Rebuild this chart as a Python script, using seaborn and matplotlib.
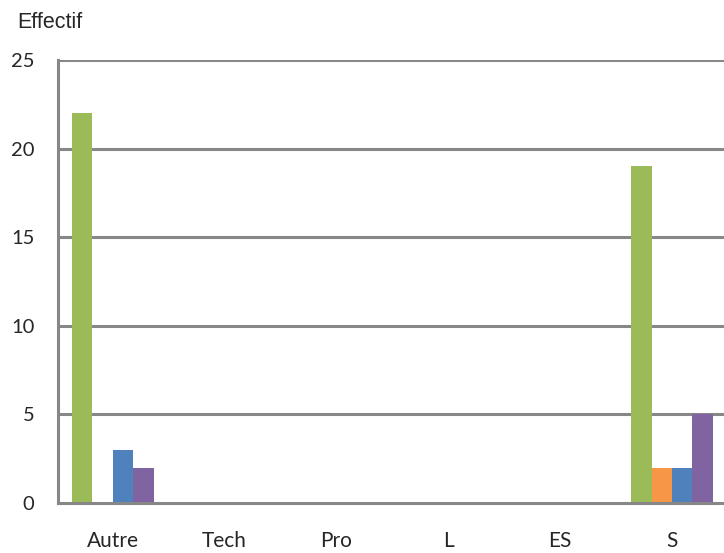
import matplotlib
matplotlib.use("Agg")
import matplotlib.pyplot as plt
import seaborn as sns
import pandas as pd

categories = ["Autre", "Tech", "Pro", "L", "ES", "S"]
series_names = ["Série 1", "Série 2", "Série 3", "Série 4"]
serie1 = [22, 0, 0, 0, 0, 19]
serie2 = [0, 0, 0, 0, 0, 2]
serie3 = [3, 0, 0, 0, 0, 2]
serie4 = [2, 0, 0, 0, 0, 5]
y_ticks = [0, 5, 10, 15, 20, 25]

colors = ["#9BBB59", "#F79646", "#4F81BD", "#8064A2"]

rows = []
for name, vals in zip(series_names, [serie1, serie2, serie3, serie4]):
    for c, v in zip(categories, vals):
        rows.append({"cat": c, "serie": name, "val": v})
df = pd.DataFrame(rows)

sns.set_style("white")
plt.rcParams["font.family"] = ["Lato", "DejaVu Sans"]

fig = plt.figure(figsize=(7.24, 5.53), dpi=100)
ax = fig.add_axes([58/724, 1 - 503/553, (728 - 58)/724, (503 - 60)/553])

sns.barplot(data=df, x="cat", y="val", hue="serie", order=categories,
            hue_order=series_names, palette=colors, width=0.73,
            saturation=1, linewidth=0, legend=False, ax=ax, errorbar=None)

ax.set_xlim(-0.49, 5.5)
ax.set_ylim(0, 25)
ax.set_yticks(y_ticks)
ax.set_yticklabels([str(t) for t in y_ticks], fontsize=14.5)
ax.set_xticks(range(len(categories)))
ax.set_xticklabels(categories, fontsize=15)
ax.tick_params(axis="both", length=0)
ax.tick_params(axis="y", pad=17)
ax.tick_params(axis="x", pad=20)
ax.set_xlabel("")
ax.set_ylabel("")

for t in y_ticks[1:]:
    ax.axhline(t, color="#878787", lw=2.2, zorder=0.5)
for s in ["top", "right"]:
    ax.spines[s].set_visible(False)
for s in ["left", "bottom"]:
    ax.spines[s].set_color("#878787")
    ax.spines[s].set_linewidth(2.2)

fig.text(17/724, 1 - 22/553, "Effectif", fontsize=15.5,
         family=["Liberation Sans", "DejaVu Sans"], va="center", ha="left")

fig.savefig("out.png", dpi=100)
